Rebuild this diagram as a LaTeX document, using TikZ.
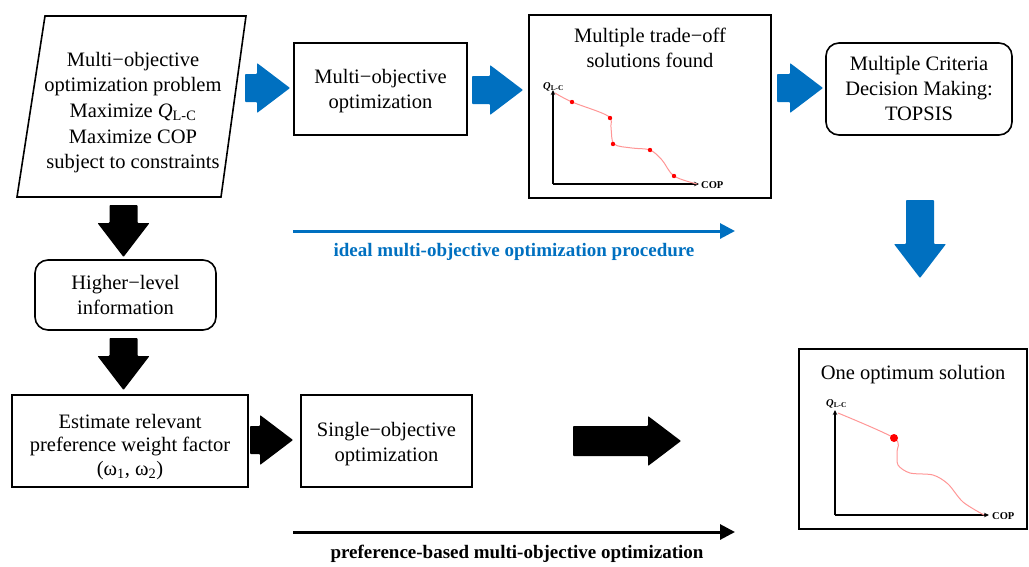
\documentclass[tikz,border=0pt]{standalone}
\usepackage{fontspec}
\setmainfont{Liberation Serif}
\usetikzlibrary{arrows.meta,calc}
\definecolor{mblue}{RGB}{0,112,192}
\definecolor{curvecol}{RGB}{255,150,150}
\newcommand{\rblock}[5]{\fill[#1,rounded corners=0.8pt] (#2,#4-#5) -- (#3-33,#4-#5) -- (#3-33,#4-25) -- (#3,#4) -- (#3-33,#4+25) -- (#3-33,#4+#5) -- (#2,#4+#5) -- cycle;}
\newcommand{\dblock}[4]{\fill[#1,rounded corners=0.8pt] (#2-14,#3) -- (#2+14,#3) -- (#2+14,#4-34) -- (#2+26,#4-34) -- (#2,#4) -- (#2-26,#4-34) -- (#2-14,#4-34) -- cycle;}
\tikzset{
  txt/.style={font=\fontsize{20.5}{25.3}\selectfont, align=center, inner sep=0pt},
  frame/.style={draw, line width=1.6pt, inner sep=0pt},
  rframe/.style={frame, rounded corners=13pt},
  axis/.style={line width=1.2pt, -{Stealth[length=5pt,width=4.5pt]}},
  axlab/.style={font=\fontsize{10.5}{12}\selectfont\bfseries, inner sep=0pt},
  curve/.style={curvecol, line width=1pt},
  bigarrow/.style={line width=3pt, -{Triangle[length=15pt,width=15pt]}},
  biglab/.style={font=\fontsize{19}{22}\selectfont\bfseries, inner sep=0pt}
}
\begin{document}
\begin{tikzpicture}[x=1pt,y=-1pt]
\useasboundingbox (0,0) rectangle (1029,566);
% problem parallelogram
\draw[line width=1.6pt] (45,16) -- (246,16) -- (221,197) -- (17,197) -- cycle;
\node[txt, font=\fontsize{20.5}{25.7}\selectfont] (prob) at (133,112.5) {Multi−objective\\optimization problem\\Maximize \textit{Q}\textsubscript{L-C}\\Maximize COP\\subject to constraints};
% top row
\node[frame, minimum width=173pt, minimum height=92pt] (mo) at (380.5,89) {};
\node[txt] (motext) at (380.5,91) {Multi−objective\\optimization};
\node[frame, minimum width=242pt, minimum height=183pt] (trade) at (650,106.5) {};
\node[txt, anchor=base] (tradetitle) at (650,67.5) {Multiple trade−off\\solutions found};
\node[rframe, minimum width=186pt, minimum height=92pt] (mcdm) at (919,89) {};
\node[txt] (mcdmtext) at (919,88.5) {Multiple Criteria\\Decision Making:\\TOPSIS};
% left column
\node[rframe, minimum width=181pt, minimum height=70pt] (higher) at (125.5,295) {};
\node[txt] (highertext) at (125.5,295) {Higher−level\\information};
\node[frame, minimum width=236pt, minimum height=92pt] (est) at (130,441) {};
\node[txt, font=\fontsize{20.5}{23.5}\selectfont] (esttext) at (130,447) {Estimate relevant\\preference weight factor\\(ω\textsubscript{1}, ω\textsubscript{2})};
\node[frame, minimum width=171pt, minimum height=92pt] (single) at (386.5,441) {};
\node[txt] (singletext) at (386.5,444) {Single−objective\\optimization};
% optimum box
\node[frame, minimum width=228pt, minimum height=180pt] (opt) at (913,439) {};
\node[txt, anchor=base] (opttitle) at (913,379) {One optimum solution};
% block arrows
\rblock{mblue}{245}{290}{88}{14}
\rblock{mblue}{472}{523}{90}{14}
\rblock{mblue}{777}{823}{88}{14}
\rblock{black}{250}{293}{440}{14}
\rblock{black}{573}{681}{441}{15}
\dblock{black}{123.5}{205}{257}
\dblock{black}{123.5}{338}{390}
\dblock{mblue}{920}{200}{278}
% plot 1
\coordinate (o1) at (553,184);
\coordinate (y1) at (553,90);
\coordinate (x1) at (699,184);
\draw[axis] (o1) -- (y1);
\draw[axis] (o1) -- (x1);
\node[axlab, anchor=base west] (q1) at (543,89) {\textit{Q}\textsubscript{L-C}};
\node[axlab, anchor=base west] (c1) at (701,188) {COP};
\draw[curve] plot[smooth, tension=0.55] coordinates {(555,93) (572,102) (608,116) (611,128) (614,144) (632,148) (650,150) (662,160) (674,176) (697,184)};
\foreach \p in {(572,102),(610,118),(613,144),(650,150),(674,176)}
  \fill[red] \p circle (2.2pt);
% plot 2
\coordinate (o2) at (835,515);
\coordinate (y2) at (835,410);
\coordinate (x2) at (989,515);
\draw[axis] (o2) -- (y2);
\draw[axis] (o2) -- (x2);
\node[axlab, anchor=base west] (q2) at (826,406) {\textit{Q}\textsubscript{L-C}};
\node[axlab, anchor=base west] (c2) at (992,519) {COP};
\draw[curve] plot[smooth, tension=0.5] coordinates {(838,413) (894,438) (897,452) (898,465) (910,473) (933,475) (948,484) (963,502) (984,515)};
\fill[red] (894,438) circle (4pt);
% long arrows
\coordinate (is) at (293,231);
\coordinate (ie) at (735,231);
\draw[bigarrow, mblue] (is) -- (ie);
\node[biglab, text=mblue] (ilab) at (514,252) {ideal multi-objective optimization procedure};
\coordinate (ps) at (293,532);
\coordinate (pe) at (735,532);
\draw[bigarrow] (ps) -- (pe);
\node[biglab] (plab) at (517,554) {preference-based multi-objective optimization};
\end{tikzpicture}
\end{document}
